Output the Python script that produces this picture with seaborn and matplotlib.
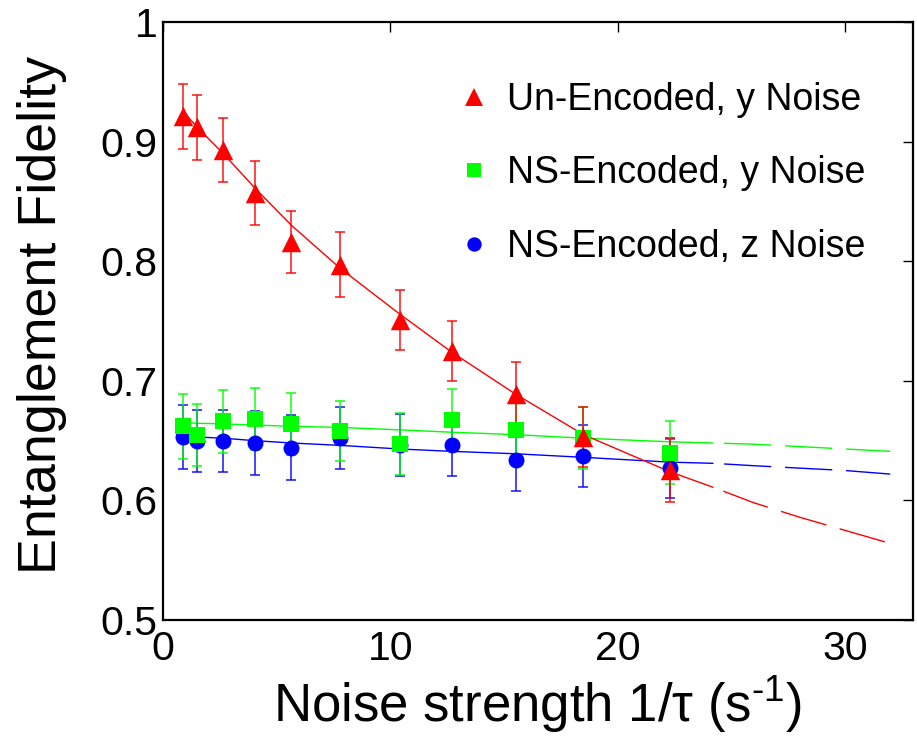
import numpy as np
import seaborn as sns
import matplotlib
matplotlib.use("Agg")
import matplotlib.pyplot as plt

noise_x = [0.89, 1.51, 2.65, 4.04, 5.65, 7.8, 10.41, 12.71, 15.54, 18.5, 22.3]
unenc_y = [0.921, 0.912, 0.893, 0.857, 0.816, 0.797, 0.751, 0.725, 0.689, 0.653, 0.625]
unenc_err = [0.027, 0.027, 0.027, 0.027, 0.026, 0.027, 0.025, 0.025, 0.027, 0.025, 0.026]
ns_y_y = [0.662, 0.655, 0.666, 0.668, 0.664, 0.658, 0.647, 0.667, 0.659, 0.652, 0.640]
ns_y_err = [0.027, 0.026, 0.026, 0.026, 0.026, 0.025, 0.026, 0.026, 0.027, 0.026, 0.026]
ns_z_y = [0.653, 0.650, 0.650, 0.648, 0.644, 0.652, 0.646, 0.646, 0.634, 0.637, 0.627]
ns_z_err = [0.027, 0.026, 0.026, 0.027, 0.027, 0.026, 0.026, 0.026, 0.026, 0.026, 0.025]

# fitted curves (solid over the measured range, dashed beyond)
fit_x = [0.9, 1.5, 2.65, 4.0, 5.65, 7.8, 10.4, 12.7, 15.5, 18.5, 22.3, 24.2, 26.0, 28.0, 30.0, 32.0]
unenc_fit = [0.925, 0.912, 0.890, 0.862, 0.830, 0.794, 0.756, 0.724, 0.689, 0.655, 0.624, 0.611, 0.598, 0.586, 0.575, 0.564]
ns_y_fit = [0.665, 0.6645, 0.664, 0.663, 0.662, 0.661, 0.659, 0.657, 0.655, 0.652, 0.649, 0.648, 0.647, 0.645, 0.643, 0.641]
ns_z_fit = [0.654, 0.653, 0.652, 0.650, 0.648, 0.646, 0.643, 0.641, 0.639, 0.636, 0.632, 0.631, 0.629, 0.627, 0.625, 0.622]
fit_break = 24.2

labels = ["Un-Encoded, y Noise", "NS-Encoded, y Noise", "NS-Encoded, z Noise"]
x_ticks = [0, 10, 20, 30]
y_ticks = [0.5, 0.6, 0.7, 0.8, 0.9, 1.0]
y_ticklabels = ["0.5", "0.6", "0.7", "0.8", "0.9", "1"]

sns.set_style("white")
plt.rcParams["font.family"] = ["Liberation Sans", "DejaVu Sans"]
plt.rcParams["mathtext.fontset"] = "custom"
plt.rcParams["mathtext.rm"] = "Liberation Sans"
plt.rcParams["mathtext.it"] = "Liberation Sans:italic"
for key in ["text.color", "axes.labelcolor", "xtick.color", "ytick.color"]:
    plt.rcParams[key] = "black"

fig = plt.figure(figsize=(9.17, 7.41), dpi=100)
ax = fig.add_axes([0.1778, 0.1633, 0.8178, 0.807])

fx = np.array(fit_x)
solid = fx <= fit_break
dashed = fx >= fit_break

series = [
    # blue first, red on top
    (ns_z_y, ns_z_err, ns_z_fit, "#0000ff", "o", 11.5, labels[2]),
    (ns_y_y, ns_y_err, ns_y_fit, "#00ff00", "s", 11, labels[1]),
    (unenc_y, unenc_err, unenc_fit, "#ff0000", "^", 14, labels[0]),
]

handles = {}
for y, err, fit, col, mk, ms, lab in series:
    fy = np.array(fit)
    ax.plot(fx[solid], fy[solid], color=col, lw=1.0, zorder=2)
    ax.plot(fx[dashed], fy[dashed], color=col, lw=1.0, zorder=2,
            linestyle=(36, (34, 10)))
    ax.errorbar(noise_x, y, yerr=err, fmt="none", ecolor=col, elinewidth=1.2,
                capsize=3.8, capthick=1.2, alpha=0.85, zorder=3)
    sns.scatterplot(x=noise_x, y=y, ax=ax, color=col, marker=mk,
                    s=(ms ** 2), linewidth=0, zorder=4)
    handles[lab] = plt.Line2D([], [], color=col, marker=mk, linestyle="none",
                              markersize=ms * 0.9, markeredgewidth=0)

ax.set_xlim(0, 33)
ax.set_ylim(0.5, 1.0)
ax.set_xticks(x_ticks)
ax.set_yticks(y_ticks)
ax.set_yticklabels(y_ticklabels)
ax.tick_params(direction="in", length=7, width=1, labelsize=29.5,
               top=True, right=True, pad=4)
ax.tick_params(axis="x", pad=7)
for sp in ax.spines.values():
    sp.set_visible(True)
    sp.set_color("black")
    sp.set_linewidth(1.6)

ax.set_xlabel(r"Noise strength 1/τ (s$\mathregular{^{\text{-}1}}$)", fontsize=38, labelpad=5)
ax.set_ylabel("Entanglement Fidelity", fontsize=38.8)
ax.yaxis.set_label_coords(-0.128, 0.51)

ax.legend([handles[l] for l in labels], labels, loc="upper left",
          bbox_to_anchor=(0.374, 0.925), frameon=False, fontsize=27,
          handlelength=0.8, handletextpad=0.5, labelspacing=1.0,
          borderaxespad=0)

fig.savefig("out.png", dpi=100)
